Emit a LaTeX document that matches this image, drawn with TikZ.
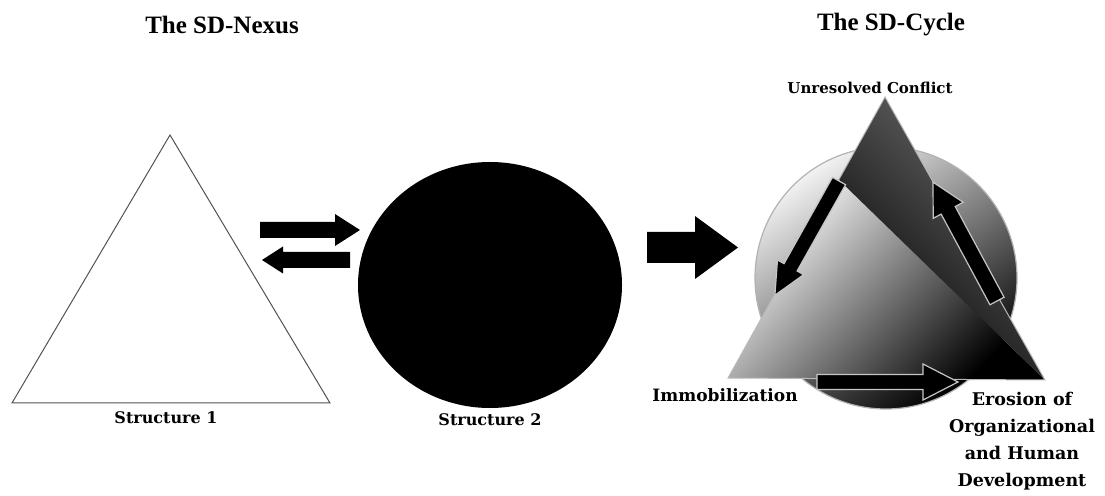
\documentclass[tikz,border=0pt]{standalone}
\usepackage{fontspec}
\setmainfont{Liberation Serif}
\newfontfamily\labfont{DejaVu Serif}
% [style]{tail}{angle}{length}{shaft half width}{head half width}{head length}
\newcommand{\barrow}[7][]{%
  \draw[#1,shift={(#2)},rotate=#3] (0,-#5) -- ({#4-#7},-#5) -- ({#4-#7},-#6) -- (#4,0)
    -- ({#4-#7},#6) -- ({#4-#7},#5) -- (0,#5) -- cycle;}
\begin{document}
\begin{tikzpicture}[x=1pt,y=1pt,
  title/.style={font=\fontsize{25}{30}\selectfont\bfseries},
  lab/.style={font=\labfont\bfseries\fontsize{16}{20}\selectfont},
  biglab/.style={font=\labfont\bfseries\fontsize{17.5}{27}\selectfont, align=center},
  blk/.style={fill=black, draw=none},
  blkout/.style={fill=black, draw=gray!45, line width=1.2pt, line join=miter},
  outline/.style={draw=gray!65!black, line width=1pt}]
\useasboundingbox (0,0) rectangle (1105,495);

% titles
\node[title] (t1) at (222,470) {The SD-Nexus};
\node[title] (t2) at (891,470) {The SD-Cycle};

% ---- SD-Nexus ----
\draw[outline, fill=white] (170,360) -- (12,92) -- (330,92) -- cycle;
\node[lab] (s1) at (166,77) {Structure 1};
\fill (490,210) ellipse [x radius=132, y radius=123];
\node[lab] (s2) at (490,75) {Structure 2};
\barrow[blk]{260,265}{0}{100}{8}{16}{25}
\barrow[blk]{350,235}{180}{88}{8}{13.5}{21}
\barrow[blk]{647,247.5}{0}{91}{15.5}{31.5}{43}

% ---- SD-Cycle ----
\shade[left color=gray!10, middle color=gray!80!black, right color=black, shading angle=35]
  (886,217) circle [radius=131];
\draw[draw=gray!60, line width=1.2pt] (886,217) circle [radius=131];
\begin{scope}
  \clip (885,398) -- (728,117) -- (1045,115) -- cycle;
  \shade[left color=white, middle color=gray!70, right color=black, shading angle=46]
    (728,117) -- (838,316) -- (1045,115) -- cycle;
  \shade[bottom color=black, top color=gray!85!black, shading angle=-44]
    (885,398) -- (838,316) -- (1045,115) -- cycle;
\end{scope}
\draw[draw=gray!55, line width=1pt] (885,398) -- (728,117) -- (1045,115) -- cycle;

\barrow[blkout]{839,314}{240.7}{131}{7.5}{15}{32}
\barrow[blkout]{997,194}{118.3}{135}{8}{17}{32}
\barrow[blkout]{817,113}{0}{141}{7.5}{18}{35}

\node[lab, font=\labfont\bfseries\fontsize{15}{18}\selectfont] (uc) at (870,407) {Unresolved Conflict};
\node[lab, font=\labfont\bfseries\fontsize{17}{20}\selectfont] (im) at (725,100) {Immobilization};
\node[biglab] (er) at (1022,54) {Erosion of\\Organizational\\and Human\\Development};
\end{tikzpicture}
\end{document}
